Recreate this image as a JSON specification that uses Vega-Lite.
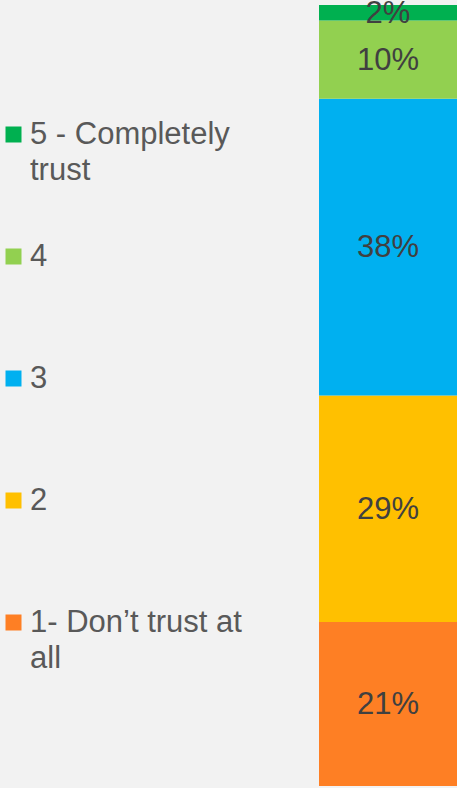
{
  "$schema": "https://vega.github.io/schema/vega-lite/v6.json",
  "width": 138,
  "height": 781,
  "autosize": {"type": "none"},
  "padding": {"left": 319, "top": 5, "right": 0, "bottom": 2},
  "background": "#f2f2f2",
  "config": {"view": {"stroke": null}, "font": "Liberation Sans"},
  "data": {
    "values": [
      {"rating": "1- Don’t trust at all", "rank": 1, "pct": 21, "label": "21%"},
      {"rating": "2", "rank": 2, "pct": 29, "label": "29%"},
      {"rating": "3", "rank": 3, "pct": 38, "label": "38%"},
      {"rating": "4", "rank": 4, "pct": 10, "label": "10%"},
      {"rating": "5 - Completely trust", "rank": 5, "pct": 2, "label": "2%"}
    ]
  },
  "encoding": {
    "x": {"datum": "all", "type": "nominal", "scale": {"paddingInner": 0, "paddingOuter": 0}, "axis": null},
    "y": {"field": "pct", "type": "quantitative", "stack": "zero", "scale": {"domain": [0, 100], "nice": false}, "axis": null},
    "order": {"field": "rank", "type": "quantitative"}
  },
  "layer": [
    {
      "mark": {"type": "bar", "width": {"band": 1}},
      "encoding": {
        "color": {
          "field": "rating",
          "type": "nominal",
          "scale": {
            "domain": ["5 - Completely trust", "4", "3", "2", "1- Don’t trust at all"],
            "range": ["#00b050", "#92d050", "#00b0f0", "#ffc000", "#fe7f24"]
          },
          "legend": {
            "title": null,
            "orient": "none",
            "legendX": -321,
            "legendY": 114,
            "symbolType": "square",
            "symbolSize": 256,
            "symbolStrokeWidth": 0,
            "symbolOpacity": 1,
            "labelFont": "Liberation Sans",
            "labelFontSize": 31,
            "labelColor": "#595959",
            "labelOffset": 1,
            "labelLimit": 400,
            "gridAlign": "all",
            "rowPadding": 54,
            "padding": 0,
            "encode": {"labels": {"update": {"lineHeight": {"value": 36}}}},
            "labelExpr": "datum.label == '5 - Completely trust' ? ['5 - Completely', 'trust'] : (datum.label == '1- Don’t trust at all' ? ['1- Don’t trust at', 'all'] : datum.label)"
          }
        }
      }
    },
    {
      "mark": {"type": "text", "fontSize": 31, "color": "#404040", "baseline": "middle", "dy": 1, "font": "Liberation Sans"},
      "encoding": {
        "y": {"field": "pct", "type": "quantitative", "stack": "zero", "bandPosition": 0.5},
        "text": {"field": "label", "type": "nominal"},
        "detail": {"field": "rating"}
      }
    }
  ]
}
